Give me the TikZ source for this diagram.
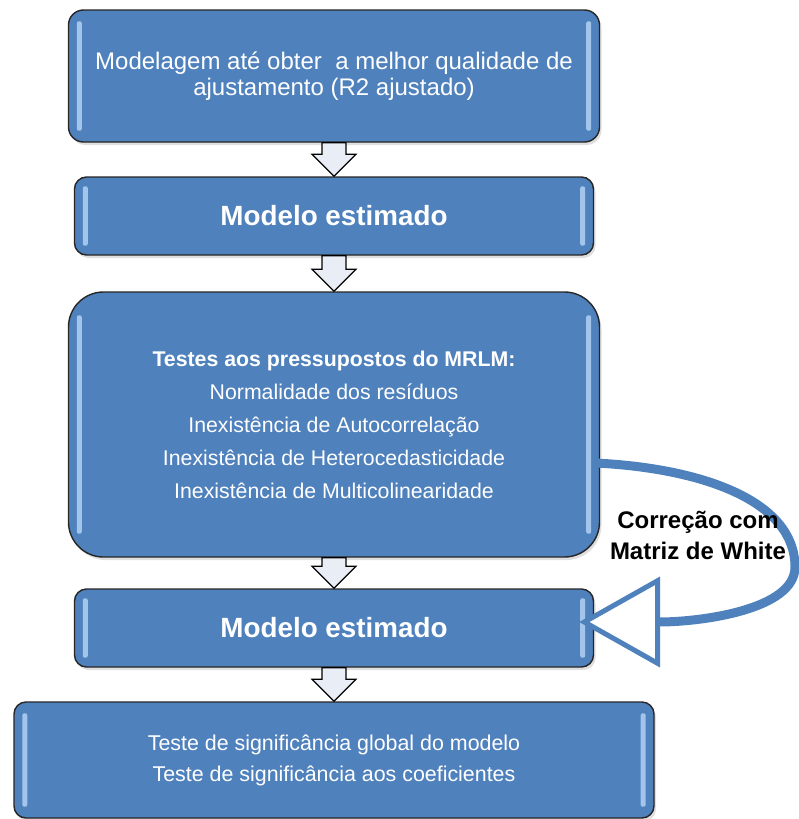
\documentclass[tikz,border=0pt]{standalone}
\usepackage{fontspec}
\setmainfont{Liberation Sans}
\usetikzlibrary{calc,shadows,arrows.meta}

\definecolor{boxblue}{HTML}{4F81BD}
\definecolor{glintblue}{HTML}{B9D7F7}
\definecolor{arrowfill}{HTML}{E9EEF6}

\tikzset{
  stepbox/.style={draw=black!85, line width=1.4pt, fill=boxblue, text=white, align=center,
    drop shadow={opacity=0.25, shadow xshift=2pt, shadow yshift=-3pt}},
  glint/.style={fill=glintblue, rounded corners=2pt, opacity=0.8},
  blockarrow/.style={draw=black, line width=1.2pt, fill=arrowfill, line join=miter},
  loopline/.style={draw=boxblue, line width=9pt,
    -{Triangle[open, length=81pt, width=90pt, line width'=5pt, fill=white]}},
}

\begin{document}
\begin{tikzpicture}[x=1pt,y=-1pt]
        \useasboundingbox (0,0) rectangle (799,819);

        % the five steps
        \node[stepbox, rounded corners=15pt, minimum width=531pt, minimum height=132pt,
              font=\fontsize{24}{26.5}\selectfont] (m1) at (334,76)
              {Modelagem até obter \ a melhor qualidade de\\ajustamento (R2 ajustado)};
        \node[stepbox, rounded corners=12pt, minimum width=519pt, minimum height=78pt,
              font=\bfseries\fontsize{27.8}{32}\selectfont] (m2) at (334,216) {Modelo estimado};
        \node[stepbox, rounded corners=35pt, minimum width=531pt, minimum height=265pt,
              font=\fontsize{21.3}{33}\selectfont] (m3) at (334,424.5)
              {\textbf{Testes aos pressupostos do MRLM:}\\Normalidade dos resíduos\\
               Inexistência de Autocorrelação\\Inexistência de Heterocedasticidade\\
               Inexistência de Multicolinearidade};
        \node[stepbox, rounded corners=12pt, minimum width=519pt, minimum height=78pt,
              font=\bfseries\fontsize{27.8}{32}\selectfont] (m4) at (334,628) {Modelo estimado};
        \node[stepbox, rounded corners=12pt, minimum width=640pt, minimum height=116pt,
              font=\fontsize{21.4}{31}\selectfont] (m5) at (334,760)
              {Teste de significância global do modelo\\Teste de significância aos coeficientes};

        % light edges inside the boxes
        \foreach \n/\ins in {m1/12,m2/10,m3/24,m4/10,m5/12} {
            \fill[glint] ($(\n.north west)+(9,\ins)$) rectangle ($(\n.south west)+(14,-\ins)$);
            \fill[glint] ($(\n.north east)+(-14,\ins)$) rectangle ($(\n.south east)+(-9,-\ins)$);
        }

        % block arrows between the steps
        \foreach \a/\b in {m1/m2,m2/m3,m3/m4,m4/m5} {
            \draw[blockarrow] ($(\a.south)+(-12,0)$) -- ($(\b.north)+(-12,-22)$) -- ++(-10,0)
                -- (\b.north) -- ++(22,-22) -- ++(-10,0) -- ($(\a.south)+(12,0)$) -- cycle;
        }

        % correction loop
        \draw[loopline] ([xshift=-5pt,yshift=-38.5pt]m3.east) .. controls (700,468) and (795,500) ..
            (795,567) .. controls (795,610) and (700,622) .. ([xshift=-15pt,yshift=6pt]m4.east);
        \node[font=\bfseries\fontsize{24}{31}\selectfont, align=center] (fix) at (698,535)
            {Correção com\\Matriz de White};
    \end{tikzpicture}
\end{document}
